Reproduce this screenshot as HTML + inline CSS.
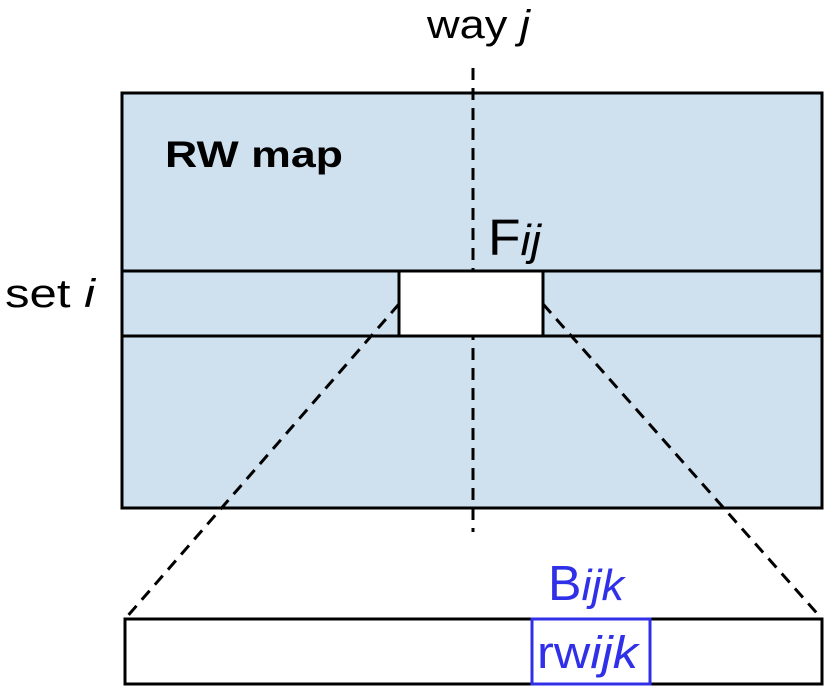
<!DOCTYPE html>
<html><head><style>body{margin:0;background:#fff}</style></head><body>
<svg width="834" height="693" viewBox="0 0 834 693" xmlns="http://www.w3.org/2000/svg" font-family="Liberation Sans, sans-serif">
<rect x="122" y="93" width="700" height="415" fill="#cfe0ef" stroke="#000" stroke-width="3"/>
<line x1="122" y1="271" x2="822" y2="271" stroke="#000" stroke-width="3"/>
<line x1="122" y1="336" x2="822" y2="336" stroke="#000" stroke-width="3"/>
<line x1="473" y1="68" x2="473" y2="532" stroke="#000" stroke-width="3" stroke-dasharray="12,8"/>
<rect x="399" y="271" width="144" height="65" fill="#fff" stroke="#000" stroke-width="3"/>
<line x1="399" y1="304" x2="125" y2="619" stroke="#000" stroke-width="3" stroke-dasharray="12,8"/>
<line x1="543" y1="304" x2="822" y2="619" stroke="#000" stroke-width="3" stroke-dasharray="12,8"/>
<rect x="125" y="619" width="697" height="65" fill="#fff" stroke="#000" stroke-width="3"/>
<rect x="532" y="619" width="118" height="65" fill="none" stroke="#3030e8" stroke-width="3"/>
<text x="427" y="38" font-size="40" textLength="103" lengthAdjust="spacingAndGlyphs">way <tspan font-style="italic">j</tspan></text>
<text x="165" y="167" font-size="37" font-weight="bold" textLength="178" lengthAdjust="spacingAndGlyphs">RW map</text>
<text x="488" y="255" font-size="51" textLength="53" lengthAdjust="spacingAndGlyphs">F<tspan font-style="italic" font-size="44">ij</tspan></text>
<text x="5" y="307" font-size="40" textLength="90" lengthAdjust="spacingAndGlyphs">set <tspan font-style="italic">i</tspan></text>
<text x="548" y="600" font-size="49" fill="#3030e8" textLength="76" lengthAdjust="spacingAndGlyphs">B<tspan font-style="italic" font-size="44">ijk</tspan></text>
<text x="537" y="668" font-size="45" fill="#3030e8" textLength="101" lengthAdjust="spacingAndGlyphs">rw<tspan font-style="italic">ijk</tspan></text>
</svg>
</body></html>
